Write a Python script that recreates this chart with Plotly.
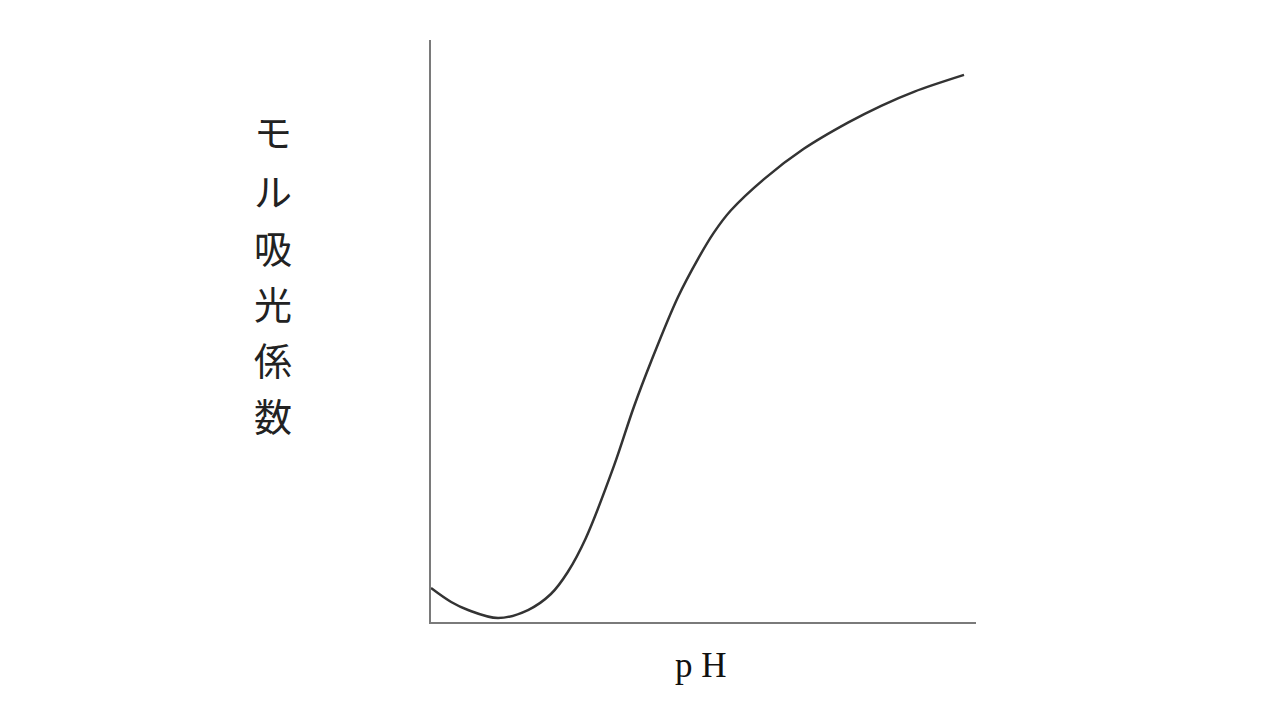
import plotly.graph_objects as go

# Curve (pH in arbitrary units, molar absorptivity in arbitrary units)
ph = [0.0, 0.37, 0.68, 1.23, 1.78, 2.20, 2.51, 2.84, 3.36, 3.72, 4.04, 4.53, 4.90, 5.19, 5.50, 6.11, 6.84, 7.65, 8.26, 8.86, 9.78]
absorb = [5.84, 3.44, 2.06, 0.69, 2.06, 4.81, 8.6, 14.4, 26.9, 36.9, 44.8, 55.8, 62.4, 66.9, 70.7, 76.1, 81.3, 85.8, 88.7, 91.1, 94.0]

y_title_chars = ["モ", "ル", "吸", "光", "係", "数"]
x_title = "p H"

# reference plot-area edges (in the screenshot) and page offset of the plot div
L, R, T, B = 430, 975, 40, 622
OX, OY = 7, 8
W, H = 1280, 720

def px(xp):
    return (xp - L) / (R - L)

def py(yp):
    return (B - yp) / (B - T)

fig = go.Figure()
fig.add_trace(go.Scatter(x=ph, y=absorb, mode="lines",
                         line=dict(color="#333333", width=2.5, shape="spline", smoothing=1.0),
                         hoverinfo="skip", showlegend=False))

annotations = []
char_centers = [130, 190, 247, 302, 358, 415]
for ch, cy in zip(y_title_chars, char_centers):
    annotations.append(dict(text=ch, x=px(272), y=py(cy), xref="paper", yref="paper",
                            showarrow=False, xanchor="center", yanchor="middle",
                            font=dict(family="Noto Sans CJK JP", size=38, color="#222222")))
annotations.append(dict(text=x_title, x=px(700), y=py(665), xref="paper", yref="paper",
                        showarrow=False, xanchor="center", yanchor="middle",
                        font=dict(family="Liberation Serif", size=35, color="#111111")))

fig.update_layout(
    width=W, height=H,
    margin=dict(l=L - OX, r=W - R + OX, t=T - OY, b=H - B + OY),
    paper_bgcolor="white", plot_bgcolor="white",
    xaxis=dict(range=[0, 10], showline=True, linecolor="#7a7a7a", linewidth=2,
               showgrid=False, zeroline=False, showticklabels=False, ticks=""),
    yaxis=dict(range=[0, 100], showline=True, linecolor="#7a7a7a", linewidth=2,
               showgrid=False, zeroline=False, showticklabels=False, ticks=""),
    annotations=annotations,
)

fig.write_html("out.html")
